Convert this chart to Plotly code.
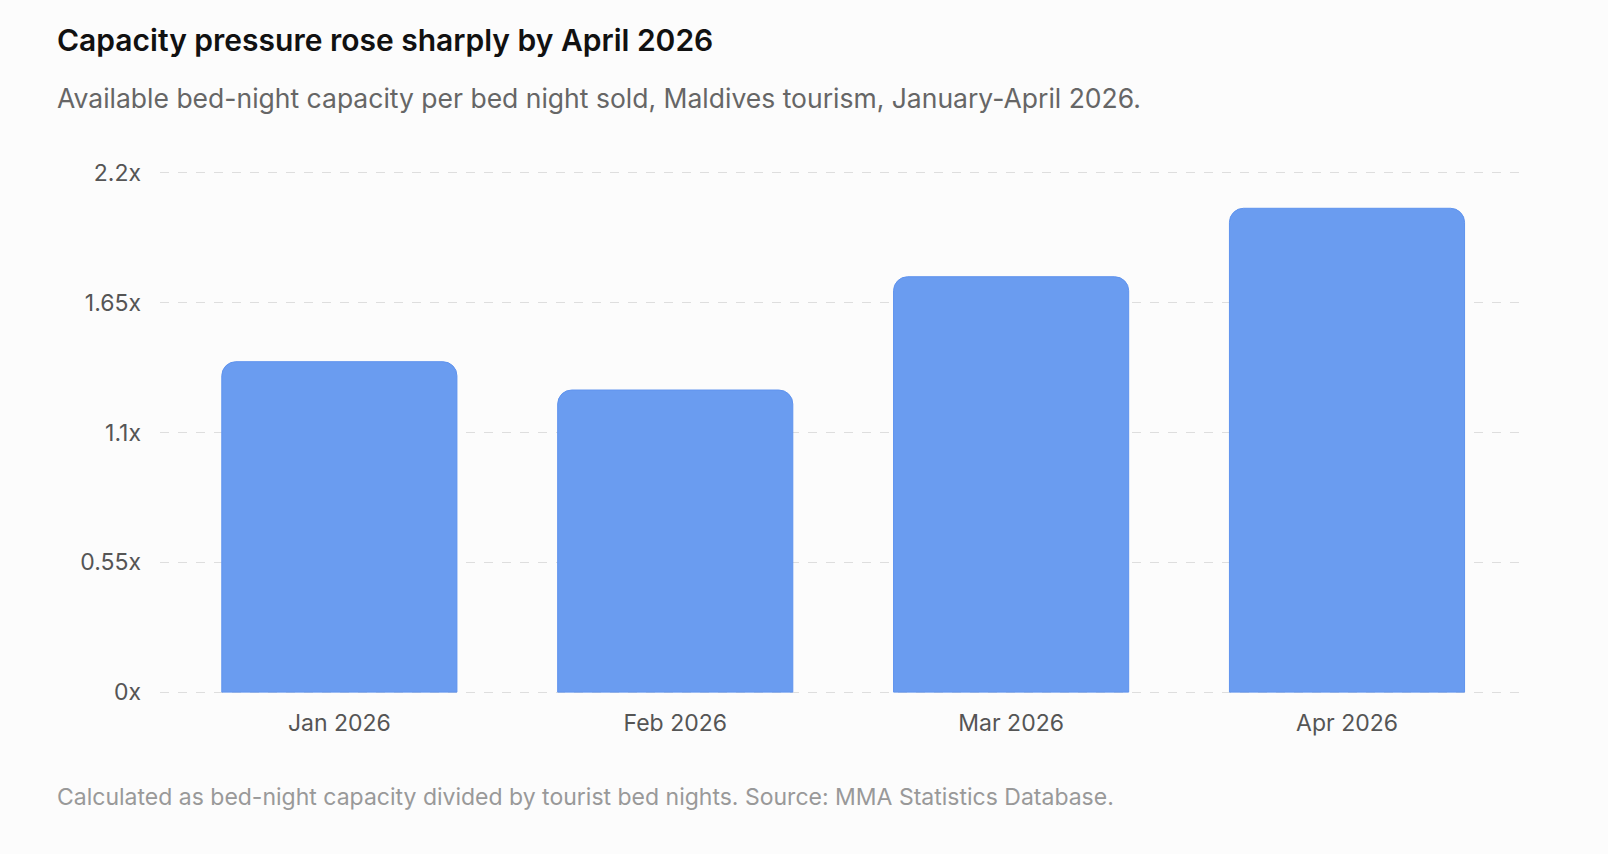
import plotly.graph_objects as go

# Données
MONTHS = ['Jan 2026', 'Feb 2026', 'Mar 2026', 'Apr 2026']
RATIO = [1.40, 1.28, 1.76, 2.05]
Y_TICKS = [0, 0.55, 1.1, 1.65, 2.2]
Y_LABELS = ['0x', '0.55x', '1.1x', '1.65x', '2.2x']

TITRE = 'Capacity pressure rose sharply by April 2026'
SOUS_TITRE = 'Available bed-night capacity per bed night sold, Maldives tourism, January-April 2026.'
NOTE = 'Calculated as bed-night capacity divided by tourist bed nights. Source: MMA Statistics Database.'

FONT = 'Inter, Roboto, sans-serif'
X_GAUCHE = (55 - 160) / 1363  # début des textes, en fraction de la zone de tracé

fig = go.Figure()
fig.add_trace(go.Bar(
    x=list(range(len(MONTHS))), y=RATIO, width=0.70,
    marker=dict(color='#6a9cf0', line=dict(color='#5f93ee', width=1), cornerradius=14),
    hovertext=MONTHS, hoverinfo='text+y',
))

fig.update_layout(
    width=1608, height=854,
    paper_bgcolor='#fcfcfc', plot_bgcolor='#fcfcfc',
    margin=dict(l=160, r=85, t=171, b=160),
    showlegend=False,
    font=dict(family=FONT, color='#555555', size=20),
    xaxis=dict(range=[-0.534, 3.524], tickvals=list(range(len(MONTHS))), ticktext=MONTHS,
               showgrid=False, showline=False, zeroline=False, ticks='',
               ticklabelstandoff=13, tickfont=dict(size=23, color='#555555')),
    yaxis=dict(range=[-0.008, 2.208], tickvals=Y_TICKS, ticktext=Y_LABELS,
               showgrid=True, gridcolor='#dedede', griddash='dash', gridwidth=1,
               zeroline=False, showline=False, ticks='', ticklabelstandoff=18,
               tickfont=dict(size=23, color='#555555')),
)

fig.add_annotation(text=TITRE, xref='paper', yref='paper', x=X_GAUCHE, y=1.0,
                   xanchor='left', yanchor='middle', yshift=131, showarrow=False,
                   font=dict(size=30, color='#111111', family=FONT, weight=600))
fig.add_annotation(text=SOUS_TITRE, xref='paper', yref='paper', x=X_GAUCHE, y=1.0,
                   xanchor='left', yanchor='middle', yshift=73, showarrow=False,
                   font=dict(size=26.5, color='#666666', family=FONT))
fig.add_annotation(text=NOTE, xref='paper', yref='paper', x=X_GAUCHE, y=0.0,
                   xanchor='left', yanchor='middle', yshift=-103, showarrow=False,
                   font=dict(size=23, color='#999999', family=FONT))

fig.write_html('out.html', config={'displayModeBar': False},
               post_script="document.body.style.margin='0';document.body.style.overflow='hidden';")
